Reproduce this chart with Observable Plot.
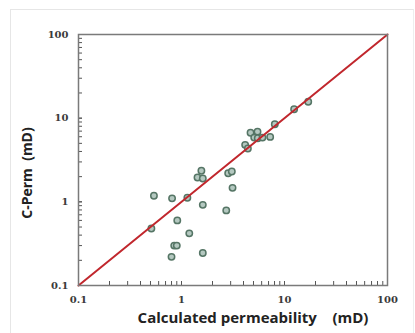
<!DOCTYPE html>
<html><head><meta charset="utf-8">
<script src="https://cdn.jsdelivr.net/npm/d3@7"></script>
<script src="https://cdn.jsdelivr.net/npm/@observablehq/plot@0.6"></script>
<style>
body{margin:0;background:#fff;}
#wrap{position:relative;width:415px;height:333px;overflow:hidden;}
#border{position:absolute;left:10px;top:9px;right:1px;bottom:-5px;border-left:1px solid #e6e6e6;border-top:1px solid #e6e6e6;border-right:1px solid #eeeeee;}
#wrap svg{position:absolute;left:0;top:0;}
</style></head><body><div id="wrap"><div id="border"></div></div>
<script>
// Calculated permeability (mD)
const calcPerm = [0.54,0.51,0.81,1.14,0.91,1.19,0.85,0.90,0.80,1.61,1.61,1.56,1.43,1.61,2.72,2.84,3.08,3.13,4.15,4.41,4.68,5.47,5.08,5.5,6.11,7.26,8.05,12.4,17.0];
// C-Perm (mD)
const cPerm    = [1.18,0.48,1.10,1.12,0.60,0.42,0.30,0.30,0.22,0.245,0.92,2.35,1.95,1.90,0.79,2.2,2.3,1.47,4.8,4.34,6.7,6.9,5.86,5.75,5.86,5.97,8.45,12.8,15.7];
// 1:1 line end points
const diagX = [0.1, 100];
const diagY = [0.1, 100];
const majorTicks = [0.1, 1, 10, 100];
const tickLabels = ["0.1", "1", "10", "100"];
const minorTicks = [];
for (const d of [0.1, 1, 10]) for (let k = 1; k <= 10; k++) minorTicks.push(+(d * k).toPrecision(3));
const xTitle = "Calculated permeability\u00a0\u00a0\u00a0 (mD)";
const yTitle = "C-Perm\u00a0 (mD)";

const points = calcPerm.map((x, i) => ({x, y: cPerm[i]}));
const diag = diagX.map((x, i) => ({x, y: diagY[i]}));
const fmt = d => tickLabels[majorTicks.indexOf(d)] ?? "";
const tickFont = {fontFamily: "DejaVu Serif", fontSize: 10, fontWeight: "bold", fill: "#3a3a3a"};
const titleFont = {fontFamily: "Open Sans", fontWeight: "bold", fill: "#222"};

const chart = Plot.plot({
  width: 415, height: 333,
  marginLeft: 78, marginRight: 28, marginTop: 34, marginBottom: 48,
  style: {background: "transparent"},
  x: {type: "log", domain: [0.1, 100]},
  y: {type: "log", domain: [0.1, 100]},
  marks: [
    Plot.axisX(minorTicks, {tickSize: -4, tickFormat: () => "", stroke: "#555", label: null}),
    Plot.axisY(minorTicks, {tickSize: -4, tickFormat: () => "", stroke: "#555", label: null}),
    Plot.axisX(majorTicks, {tickSize: 0, tickPadding: 10, tickFormat: fmt, label: null, ...tickFont}),
    Plot.axisY(majorTicks, {tickSize: 0, tickPadding: 10, tickFormat: fmt, label: null, ...tickFont}),
    Plot.dot(points, {x: "x", y: "y", r: 3.2, fill: "#b4c8c0", stroke: "#557565", strokeWidth: 1.5}),
    Plot.line(diag, {x: "x", y: "y", stroke: "#c1272d", strokeWidth: 2}),
    Plot.frame({stroke: "#7a7a7a", strokeWidth: 1.5}),
    Plot.text([xTitle], {text: d => d, frameAnchor: "bottom", textAnchor: "middle", dx: 20, dy: 37, fontSize: 15, ...titleFont}),
    Plot.text([yTitle], {text: d => d, frameAnchor: "left", textAnchor: "middle", dx: -51, dy: 13, rotate: -90, fontSize: 14, ...titleFont})
  ]
});
document.getElementById("wrap").appendChild(chart);
</script>
</body></html>
